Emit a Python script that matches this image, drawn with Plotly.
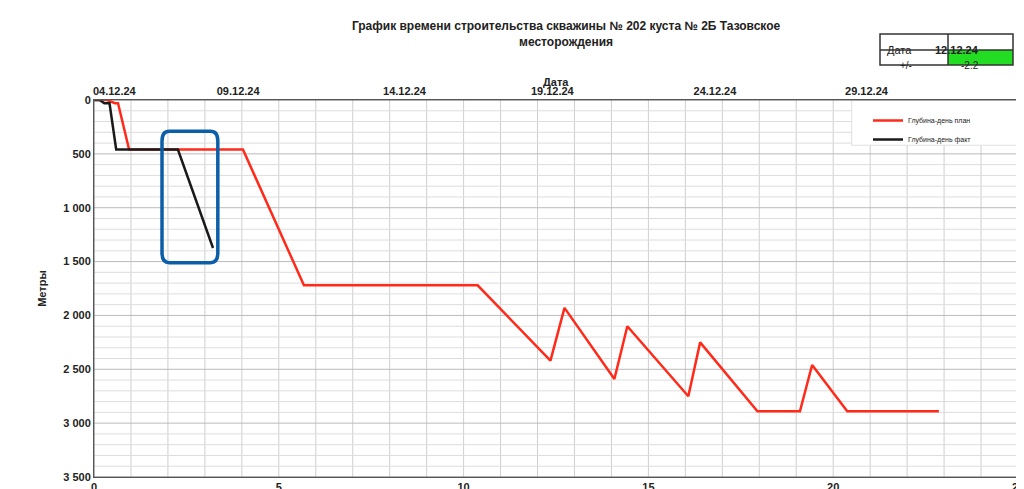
import plotly.graph_objects as go

plan_x = [0, 0.35, 0.57, 0.65, 0.95, 4.03, 5.68, 10.38, 12.35, 12.73, 14.08, 14.43, 16.08, 16.4, 17.95, 19.1, 19.43, 20.38, 22.86]
plan_y = [0, 0, 30, 30, 460, 460, 1720, 1720, 2420, 1930, 2590, 2100, 2750, 2250, 2890, 2890, 2460, 2890, 2890]
fact_x = [0, 0.15, 0.28, 0.42, 0.6, 2.27, 3.22]
fact_y = [0, 0, 30, 30, 460, 460, 1374]
top_labels = ["04.12.24", "09.12.24", "14.12.24", "19.12.24", "24.12.24", "29.12.24"]
top_pos = [0.55, 3.9, 8.4, 12.4, 16.8, 20.9]
x_ticks = [0, 5, 10, 15, 20, 25]
y_ticks = [0, 500, 1000, 1500, 2000, 2500, 3000, 3500]
y_labels = ["0", "500", "1 000", "1 500", "2 000", "2 500", "3 000", "3 500"]

L, R, T, B, W, H = 86, 14, 92, 20, 1024, 489
PW, PH = W - L - R, H - T - B
def px(p): return (p - L) / PW
def py(p): return (H - B - p) / PH

fig = go.Figure()
fig.add_trace(go.Scatter(x=plan_x, y=plan_y, mode="lines", name="Глубина-день план",
                         line=dict(color="#ff2a1a", width=2.5)))
fig.add_trace(go.Scatter(x=fact_x, y=fact_y, mode="lines", name="Глубина-день факт",
                         line=dict(color="#1a1a1a", width=2.5)))
fig.add_trace(go.Scatter(x=[None], y=[None], xaxis="x2", showlegend=False))

F = "Liberation Sans, Arial"
fig.update_layout(
    width=W, height=H, paper_bgcolor="white", plot_bgcolor="white",
    margin=dict(l=L, r=R, t=T, b=B, autoexpand=False),
    font=dict(family=F, color="#222", size=11),
    title=dict(text="<b>График времени строительства скважины № 202 куста № 2Б Тазовское<br>месторождения</b>",
               x=0.545, xanchor="center", y=0.955, font=dict(size=12, family=F)),
    xaxis=dict(range=[0, 25], tickvals=x_ticks, ticktext=["<b>%d</b>" % v for v in x_ticks], showgrid=False,
               linecolor="#555", ticks="", zeroline=False, automargin=False),
    xaxis2=dict(range=[0, 25], overlaying="x", side="top", tickvals=top_pos,
                ticktext=["<b>%s</b>" % t for t in top_labels], automargin=False,
                showgrid=False, ticks="", showline=True, linecolor="#555"),
    yaxis=dict(range=[3500, 0], tickvals=y_ticks, ticktext=["<b>%s</b>" % t for t in y_labels],
               showgrid=False, linecolor="#555", showline=True, zeroline=False, automargin=False,
               title=dict(text="<b>Метры</b>", font=dict(size=11), standoff=14)),
    legend=dict(x=px(860), y=py(98), xanchor="left", yanchor="top", font=dict(size=7),
                bgcolor="rgba(255,255,255,0)", tracegroupgap=12, itemwidth=30),
    showlegend=True,
)

shapes = []
for i in range(1, 25):
    shapes.append(dict(type="line", xref="x", yref="y", x0=i, x1=i, y0=0, y1=3500,
                       line=dict(color="#cfcfcf", width=1), layer="below"))
for v in range(100, 3500, 100):
    shapes.append(dict(type="line", xref="x", yref="y", x0=0, x1=25, y0=v, y1=v,
                       line=dict(color="#bbbbbb" if v % 500 == 0 else "#dddddd", width=1), layer="below"))
shapes.append(dict(type="rect", xref="x", yref="y", x0=20.5, x1=25, y0=0, y1=420,
                   fillcolor="white", line=dict(color="#e0e0e0", width=1), layer="below"))
shapes.append(dict(type="rect", xref="x", yref="y", x0=0, x1=25, y0=0, y1=3500,
                   line=dict(color="#666", width=1)))
x0, x1, y0, y1, rx, ry = 1.84, 3.35, 290, 1510, 0.2, 90
path = (f"M {x0+rx},{y0} L {x1-rx},{y0} Q {x1},{y0} {x1},{y0+ry} L {x1},{y1-ry} Q {x1},{y1} {x1-rx},{y1} "
        f"L {x0+rx},{y1} Q {x0},{y1} {x0},{y1-ry} L {x0},{y0+ry} Q {x0},{y0} {x0+rx},{y0} Z")
shapes.append(dict(type="path", xref="x", yref="y", path=path, line=dict(color="#0a5fa8", width=3.5)))
tx = [px(872), px(940), px(1005)]
ty = [py(26), py(42), py(57)]
shapes.append(dict(type="rect", xref="paper", yref="paper", x0=tx[1], x1=tx[2], y0=ty[2], y1=ty[1],
                   fillcolor="#22dd22", line=dict(width=0)))
shapes.append(dict(type="rect", xref="paper", yref="paper", x0=tx[0], x1=tx[2], y0=ty[2], y1=ty[0],
                   line=dict(color="#333", width=1.5)))
shapes.append(dict(type="line", xref="paper", yref="paper", x0=tx[1], x1=tx[1], y0=ty[2], y1=ty[0],
                   line=dict(color="#333", width=1.5)))
shapes.append(dict(type="line", xref="paper", yref="paper", x0=tx[0], x1=tx[2], y0=ty[1], y1=ty[1],
                   line=dict(color="#333", width=1.5)))
fig.update_layout(shapes=shapes)

ann = [dict(text="<b>Дата</b>", xref="paper", yref="paper", x=px(548), y=py(66), showarrow=False,
            font=dict(size=11, family=F))]
cells = [("Дата", 0, 0), ("<b>12.12.24</b>", 1, 0), ("+/-", 0, 1), ("-2.2", 1, 1)]
for t, c, r in cells:
    ann.append(dict(text=t, xref="paper", yref="paper",
                    x=(tx[c]+tx[c+1])/2, y=(ty[r]+ty[r+1])/2, showarrow=False,
                    font=dict(size=11 if r == 0 else 10, family=F)))
fig.update_layout(annotations=ann)
fig.write_html("out.html")
